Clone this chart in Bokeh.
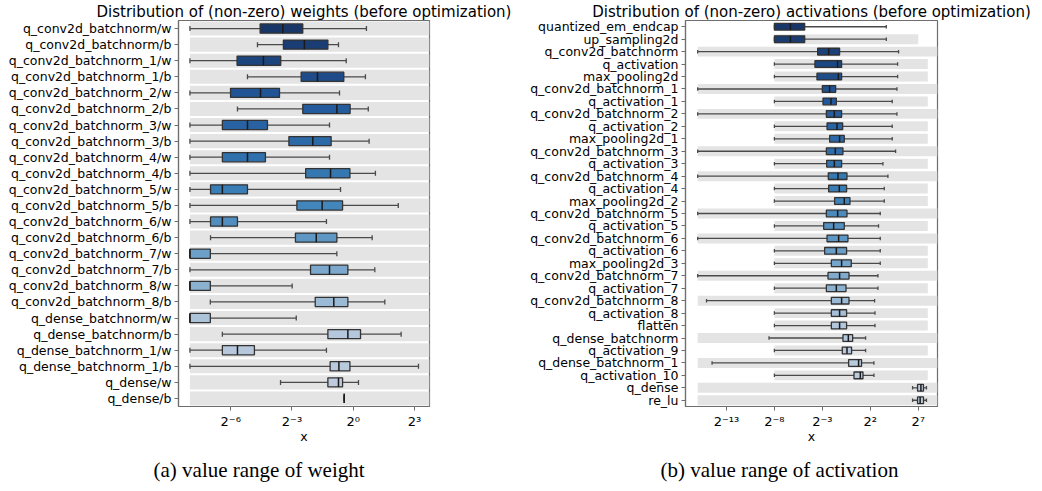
import numpy as np
from bokeh.plotting import figure
from bokeh.models import (ColumnDataSource, FactorRange, Range1d, FixedTicker,
                          CustomJSTickFormatter, Title)
from bokeh.layouts import row
from bokeh.embed import file_html
from bokeh.resources import INLINE

# ---------------------------------------------------------------------------
# Weights: per-tensor distribution of |non-zero| values, stored as log2 exponents
# (whisker low, first quartile, median, third quartile, whisker high)
# ---------------------------------------------------------------------------
w_names = [
    "q_conv2d_batchnorm/w", "q_conv2d_batchnorm/b",
    "q_conv2d_batchnorm_1/w", "q_conv2d_batchnorm_1/b",
    "q_conv2d_batchnorm_2/w", "q_conv2d_batchnorm_2/b",
    "q_conv2d_batchnorm_3/w", "q_conv2d_batchnorm_3/b",
    "q_conv2d_batchnorm_4/w", "q_conv2d_batchnorm_4/b",
    "q_conv2d_batchnorm_5/w", "q_conv2d_batchnorm_5/b",
    "q_conv2d_batchnorm_6/w", "q_conv2d_batchnorm_6/b",
    "q_conv2d_batchnorm_7/w", "q_conv2d_batchnorm_7/b",
    "q_conv2d_batchnorm_8/w", "q_conv2d_batchnorm_8/b",
    "q_dense_batchnorm/w", "q_dense_batchnorm/b",
    "q_dense_batchnorm_1/w", "q_dense_batchnorm_1/b",
    "q_dense/w", "q_dense/b",
]
w_lo = [-8, -4.69, -8, -5.18, -8, -5.67, -8, -8, -8, -8, -8, -8,
        -8, -6.99, -8, -8, -8, -7.0, -8, -6.41, -8, -8, -3.56, -0.44]
w_q1 = [-4.56, -3.42, -5.69, -2.55, -6.01, -2.47, -6.41, -3.15, -6.41, -2.33, -6.99, -2.76,
        -6.99, -2.83, -8, -2.09, -8, -1.86, -8, -1.24, -6.41, -1.13, -1.24, -0.44]
w_med = [-3.45, -2.39, -4.40, -1.75, -4.54, -0.80, -5.18, -1.98, -5.18, -1.11, -6.41, -1.52,
         -6.41, -1.81, -8, -1.16, -8, -0.95, -8, -0.26, -5.67, -0.70, -0.72, -0.44]
w_q3 = [-2.47, -1.24, -3.55, -0.46, -3.61, -0.15, -4.20, -1.08, -4.30, -0.16, -5.18, -0.52,
        -5.67, -0.80, -7.0, -0.26, -7.0, -0.26, -7.0, 0.36, -4.84, -0.16, -0.52, -0.44]
w_hi = [0.65, -0.72, -0.34, 0.60, -0.67, 0.74, -1.16, 0.78, -1.16, 1.09, -0.62, 2.21,
        -1.31, 0.93, -0.80, 1.06, -2.99, 1.55, -2.79, 2.35, -1.31, 3.20, 0.26, -0.44]
# representable range of each tensor's quantizer (log2)
w_range_lo = [-8] * 24
w_range_hi = [6] * 24

# ---------------------------------------------------------------------------
# Activations: per-layer distribution of |non-zero| outputs (log2 exponents)
# ---------------------------------------------------------------------------
a_names = [
    "quantized_em_endcap", "up_sampling2d",
    "q_conv2d_batchnorm", "q_activation", "max_pooling2d",
    "q_conv2d_batchnorm_1", "q_activation_1",
    "q_conv2d_batchnorm_2", "q_activation_2", "max_pooling2d_1",
    "q_conv2d_batchnorm_3", "q_activation_3",
    "q_conv2d_batchnorm_4", "q_activation_4", "max_pooling2d_2",
    "q_conv2d_batchnorm_5", "q_activation_5",
    "q_conv2d_batchnorm_6", "q_activation_6", "max_pooling2d_3",
    "q_conv2d_batchnorm_7", "q_activation_7",
    "q_conv2d_batchnorm_8", "q_activation_8", "flatten",
    "q_dense_batchnorm", "q_activation_9",
    "q_dense_batchnorm_1", "q_activation_10",
    "q_dense", "re_lu",
]
a_lo = [-8, -8, -16, -8, -8, -16, -8, -16, -8, -8, -16, -8, -16, -8, -8, -16,
        -8, -16, -8, -8, -16, -8, -15.08, -8, -8, -8.56, -8, -14.5, -8, 6.41, 6.41]
a_q1 = [-8, -8, -3.49, -3.77, -3.56, -3.0, -2.93, -2.58, -2.51, -2.24, -2.58, -2.55,
        -2.38, -2.34, -1.72, -2.58, -2.86, -2.51, -2.76, -2.06, -2.41, -2.58, -2.06,
        -2.06, -2.06, -0.85, -0.92, -0.26, 0.30, 6.93, 6.93]
a_med = [-6.33, -6.33, -2.34, -1.41, -1.33, -2.24, -2.10, -1.75, -1.47, -1.20, -1.65,
         -1.75, -1.37, -1.23, -0.71, -1.40, -1.82, -1.30, -1.54, -0.99, -1.20, -1.54,
         -0.99, -1.20, -1.20, -0.29, -0.43, 0.78, 0.96, 7.28, 7.20]
a_q3 = [-4.84, -4.84, -1.20, -0.99, -0.99, -1.61, -1.54, -0.99, -0.88, -0.71, -0.85,
        -0.99, -0.43, -0.47, -0.12, -0.43, -0.71, -0.33, -0.47, 0.02, -0.22, -0.53,
        -0.22, -0.47, -0.47, 0.16, 0.05, 1.09, 1.24, 7.55, 7.55]
a_hi = [3.67, 3.67, 4.95, 4.85, 4.85, 4.78, 4.29, 4.78, 4.29, 4.29, 4.64, 3.32, 3.84,
        3.46, 3.46, 3.04, 2.86, 3.04, 3.04, 3.04, 2.80, 2.80, 2.45, 2.49, 2.49, 1.51,
        1.51, 2.38, 2.38, 7.86, 7.86]
a_range_lo = [np.nan, -8, -16, -8, -8, -16, -8, -16, -8, -8, -16, -8, -16, -8, -8, -16,
              -8, -16, -8, -8, -16, -8, -16, -8, -8, -16, -8, -16, -8, -16, -16]
a_range_hi = [np.nan, 7, 10, 8, 8, 10, 8, 10, 8, 8, 10, 8, 10, 8, 8, 10,
              8, 10, 8, 8, 10, 8, 10, 8, 8, 10, 8, 10, 8, 10, 10]

w_ticks = [-6, -3, 0, 3]
a_ticks = [-13, -8, -3, 2, 7]

FONT = "DejaVu Sans"
FRAME = "#6e6e6e"
EDGE = "#333333"
WHISK = "#4a4a4a"
BAND = "#e4e4e4"

# dark-to-light blue ramp for the boxes
RAMP = [(0.0, (24, 54, 104)), (0.2, (34, 88, 155)), (0.45, (58, 128, 184)),
        (0.65, (122, 168, 204)), (0.8, (178, 198, 220)), (1.0, (192, 205, 221))]


def ramp_colors(n):
    out = []
    for i in range(n):
        t = i / max(n - 1, 1)
        for (t0, c0), (t1, c1) in zip(RAMP[:-1], RAMP[1:]):
            if t0 <= t <= t1:
                f = (t - t0) / (t1 - t0)
                c = [round(a + (b - a) * f) for a, b in zip(c0, c1)]
                out.append("#%02x%02x%02x" % tuple(c))
                break
    return out


SUPER = "{'-':'\u207b','0':'\u2070','1':'\u00b9','2':'\u00b2','3':'\u00b3','4':'\u2074'," \
        "'5':'\u2075','6':'\u2076','7':'\u2077','8':'\u2078','9':'\u2079'}"


def panel(names, lo, q1, med, q3, hi, rlo, rhi, ticks, xlim, title, caption,
          width, border_left, border_right, box_h, band_h, cap_size):
    p2 = lambda v: np.exp2(np.asarray(v, dtype=float))
    src = ColumnDataSource(dict(
        name=names,
        lo=p2(lo), q1=p2(q1), med=p2(med), q3=p2(q3), hi=p2(hi),
        rlo=p2(rlo), rhi=p2(rhi),
        my0=[(n, -box_h / 2) for n in names],
        my1=[(n, box_h / 2) for n in names],
        color=ramp_colors(len(names)),
    ))
    p = figure(width=width, height=491, output_backend="svg", toolbar_location=None,
               x_axis_type="log", x_range=Range1d(2 ** xlim[0], 2 ** xlim[1]),
               y_range=FactorRange(factors=list(reversed(names))),
               min_border_left=border_left, min_border_right=border_right,
               min_border_top=18, min_border_bottom=83)
    p.background_fill_color = "white"
    p.border_fill_color = "white"
    p.outline_line_color = FRAME
    p.outline_line_width = 1.2
    p.xgrid.visible = False
    p.ygrid.visible = False

    p.title.text = title
    p.title.align = "center"
    p.title.text_font = FONT
    p.title.text_font_size = "15px"
    p.title.text_font_style = "normal"
    p.title.text_color = "black"
    p.title.standoff = 0

    p.hbar(y="name", left="rlo", right="rhi", height=band_h, source=src,
           fill_color=BAND, line_color=None)
    p.segment(x0="lo", y0="name", x1="hi", y1="name", source=src,
              line_color=WHISK, line_width=1.3)
    for col in ("lo", "hi"):
        p.scatter(x=col, y="name", source=src, marker="dash", angle=np.pi / 2,
                  size=cap_size, line_color=WHISK, line_width=1.3)
    p.hbar(y="name", left="q1", right="q3", height=box_h, source=src,
           fill_color="color", line_color=EDGE, line_width=1.3)
    p.segment(x0="med", y0="my0", x1="med", y1="my1", source=src,
              line_color="#1a1a1a", line_width=1.5)

    xa = p.xaxis[0]
    xa.ticker = FixedTicker(ticks=[2.0 ** t for t in ticks], minor_ticks=[])
    xa.formatter = CustomJSTickFormatter(code=(
        "const s = " + SUPER + ";"
        "const e = Math.round(Math.log2(tick));"
        "return '2' + String(e).split('').map(c => s[c]).join('');"))
    xa.axis_label = "x"
    xa.axis_label_text_font = FONT
    xa.axis_label_text_font_size = "12.5px"
    xa.axis_label_text_font_style = "normal"
    xa.axis_label_text_color = "black"
    xa.axis_label_standoff = -3

    for ax in (p.xaxis[0], p.yaxis[0]):
        ax.axis_line_color = FRAME
        ax.axis_line_width = 1.2
        ax.major_tick_line_color = FRAME
        ax.major_tick_out = 4
        ax.major_tick_in = 0
        ax.minor_tick_line_color = None
        ax.major_label_text_font = FONT
        ax.major_label_text_font_size = "12.5px"
        ax.major_label_text_color = "black"
        ax.major_label_standoff = 3
    p.xaxis[0].major_label_text_font_size = "13px"

    p.add_layout(Title(text=caption, align="left", offset=-25,
                       text_font="Liberation Serif", text_font_size="21px",
                       text_font_style="normal", text_color="black", standoff=19),
                 "below")
    return p


left = panel(w_names, w_lo, w_q1, w_med, w_q3, w_hi, w_range_lo, w_range_hi,
             w_ticks, (-8.56, 3.74),
             "Distribution of (non-zero) weights (before optimization)",
             "(a) value range of weight",
             520, 178, 91, 0.57, 0.88, 5)
right = panel(a_names, a_lo, a_q1, a_med, a_q3, a_hi, a_range_lo, a_range_hi,
              a_ticks, (-17.27, 9.01),
              "Distribution of (non-zero) activations (before optimization)",
              "(b) value range of activation",
              522, 165, 105, 0.54, 0.8, 3.5)

layout = row(left, right)
open("out.html", "w").write(file_html(layout, INLINE))
